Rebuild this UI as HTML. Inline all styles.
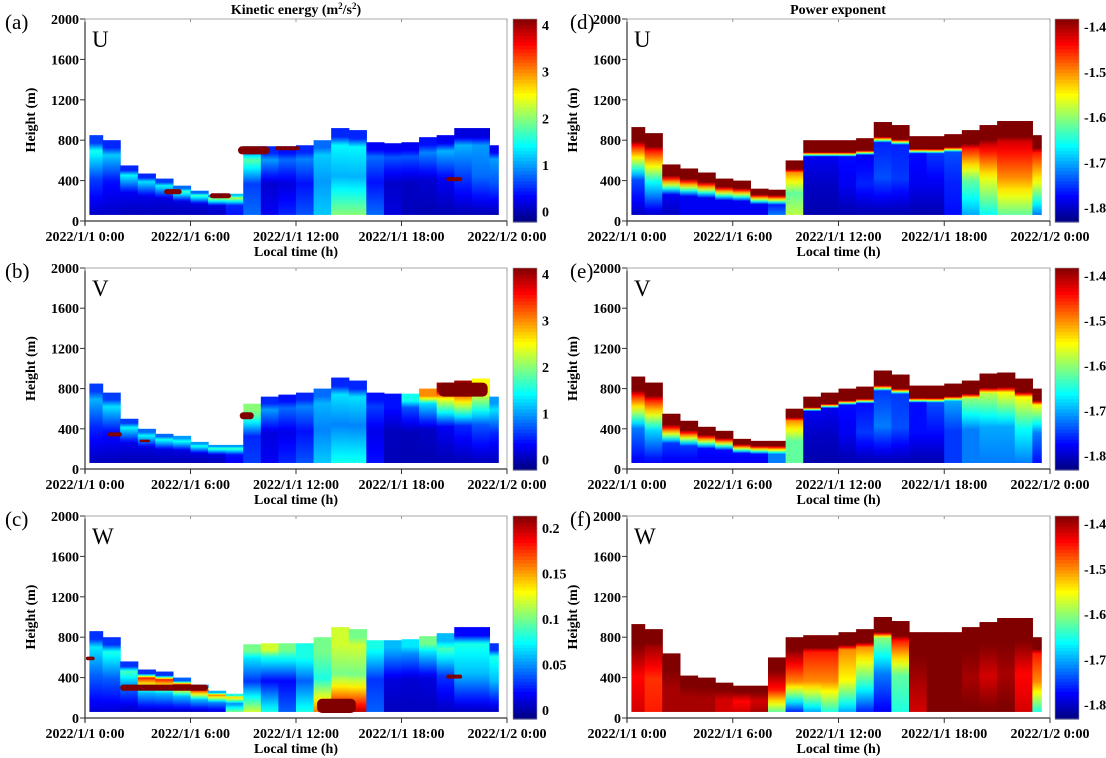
<!DOCTYPE html>
<html><head><meta charset="utf-8">
<style>
html,body{margin:0;padding:0;background:#fff;}
svg{display:block;font-family:"Liberation Serif",serif;}
.tk{font-weight:bold;font-size:14px;}
</style></head>
<body>
<svg id="fig" width="1106" height="758" viewBox="0 0 1106 758" xmlns="http://www.w3.org/2000/svg">
<defs id="defs"></defs>
<text x="296" y="14" text-anchor="middle" font-weight="bold" font-size="14">Kinetic energy (m<tspan font-size="9" dy="-5">2</tspan><tspan dy="5">/s</tspan><tspan font-size="9" dy="-5">2</tspan><tspan dy="5">)</tspan></text>
<text x="838" y="14" text-anchor="middle" font-weight="bold" font-size="14">Power exponent</text>
</svg>
<script>
// ---- data (hourly columns 0..23) ----
const hours = [0,1,2,3,4,5,6,7,8,9,10,11,12,13,14,15,16,17,18,19,20,21,22,23];
const xTickLabels = ["2022/1/1 0:00","2022/1/1 6:00","2022/1/1 12:00","2022/1/1 18:00","2022/1/2 0:00"];
const xTickHours = [0,6,12,18,24];
const yTicks = [0,400,800,1200,1600,2000];

const topA = [850,800,550,470,420,350,300,260,270,740,740,740,750,800,920,900,780,770,780,830,850,920,920,750];
const vTopA = [0.6,0.5,0.5,0.5,0.6,0.8,0.8,1.0,1.2,1.0,0.5,0.4,0.5,0.8,0.5,0.5,0.3,0.3,0.3,0.4,0.3,0.2,0.2,0.3];
const vUpA = [1.5,1.2,1.4,1.3,1.4,1.7,1.7,2.0,2.2,1.8,1.0,0.8,0.9,1.2,1.4,1.4,0.8,0.7,0.7,0.9,1.1,1.1,1.0,1.0];
const vMidA = [0.6,0.4,0.3,0.25,0.2,0.2,0.2,0.2,0.5,0.6,0.15,0.2,0.4,1.0,1.1,1.1,0.4,0.12,0.1,0.15,0.3,0.6,0.8,0.7];
const vBotA = [0.1,0.1,0.05,0.05,0.05,0.05,0.05,0.1,0.4,0.8,0.3,0.5,0.7,1.2,2.0,2.0,0.8,0.2,0.05,0.02,0.02,0.02,0.02,0.02];
const blobsA = [[5,290,0.5,25],[7.7,250,0.6,25],[9.6,700,0.9,40],[11.5,720,0.7,20],[21,415,0.45,20]];

const topB = [850,760,500,400,350,330,270,240,240,650,720,740,760,800,910,880,760,750,750,800,860,880,900,720];
const vTopB = [0.6,0.6,0.6,0.8,0.8,1.0,1.0,1.0,1.0,2.0,0.5,0.4,0.5,0.8,0.5,0.5,0.4,0.4,1.5,3.0,4.0,4.0,2.5,1.0];
const vUpB = [1.1,1.3,1.4,1.4,1.5,1.5,1.5,1.7,1.7,1.8,1.0,0.8,0.9,1.1,1.3,1.3,0.6,0.4,0.7,1.3,2.5,3.0,2.3,1.3];
const vMidB = [0.5,0.4,0.25,0.2,0.2,0.2,0.2,0.2,0.4,0.5,0.2,0.25,0.4,0.9,0.9,0.9,0.25,0.06,0.06,0.1,0.3,0.5,0.7,0.5];
const vBotB = [0.05,0.05,0.02,0.02,0.02,0.02,0.02,0.05,0.3,0.6,0.3,0.5,0.7,1.2,1.5,1.5,0.4,0.05,0.02,0.02,0.02,0.02,0.05,0.05];
const blobsB = [[1.7,345,0.4,20],[3.4,280,0.3,12],[9.2,530,0.4,35],[21.5,790,1.4,70]];

const topC = [860,800,560,480,460,400,330,270,240,730,740,740,740,800,900,880,770,770,780,810,840,900,900,740];
const vTopC = [0.03,0.03,0.03,0.03,0.03,0.04,0.05,0.06,0.08,0.1,0.12,0.1,0.08,0.1,0.12,0.1,0.08,0.06,0.07,0.1,0.06,0.02,0.02,0.03];
const vUpC = [0.07,0.08,0.09,0.18,0.18,0.18,0.18,0.16,0.14,0.07,0.08,0.08,0.08,0.1,0.12,0.12,0.07,0.05,0.05,0.07,0.09,0.08,0.08,0.08];
const vMidC = [0.04,0.04,0.04,0.06,0.06,0.06,0.06,0.05,0.05,0.03,0.02,0.02,0.04,0.08,0.1,0.1,0.03,0.012,0.01,0.012,0.03,0.06,0.06,0.06];
const vBotC = [0.01,0.01,0.005,0.005,0.005,0.005,0.005,0.01,0.1,0.12,0.08,0.04,0.08,0.16,0.2,0.2,0.04,0.005,0.005,0.005,0.005,0.005,0.005,0.005];
const blobsC = [[0.3,590,0.25,18],[4.5,300,2.5,30],[21,410,0.45,20],[14.3,120,1.1,70]];

const topD = [930,870,560,520,480,420,400,320,310,600,800,800,800,820,980,950,840,840,860,900,950,990,990,850];
const vTopD = [-1.38,-1.38,-1.38,-1.38,-1.38,-1.38,-1.38,-1.38,-1.38,-1.38,-1.38,-1.38,-1.38,-1.38,-1.38,-1.38,-1.38,-1.38,-1.38,-1.38,-1.38,-1.38,-1.38,-1.38];
const vUpD = [-1.45,-1.45,-1.38,-1.38,-1.38,-1.38,-1.38,-1.38,-1.38,-1.5,-1.78,-1.78,-1.77,-1.78,-1.76,-1.76,-1.77,-1.75,-1.74,-1.45,-1.42,-1.42,-1.42,-1.45];
const vMidD = [-1.74,-1.66,-1.78,-1.78,-1.78,-1.78,-1.78,-1.78,-1.76,-1.62,-1.8,-1.8,-1.78,-1.76,-1.74,-1.75,-1.78,-1.78,-1.76,-1.62,-1.56,-1.5,-1.5,-1.56];
const vBotD = [-1.8,-1.8,-1.8,-1.78,-1.78,-1.78,-1.78,-1.78,-1.72,-1.58,-1.81,-1.81,-1.81,-1.81,-1.81,-1.81,-1.81,-1.81,-1.77,-1.7,-1.66,-1.62,-1.62,-1.72];

const topE = [920,860,550,480,420,380,300,280,280,600,720,760,800,820,980,940,830,830,850,880,950,960,900,800];
const vTopE = [-1.38,-1.38,-1.38,-1.38,-1.38,-1.38,-1.38,-1.38,-1.38,-1.38,-1.38,-1.38,-1.38,-1.38,-1.38,-1.38,-1.38,-1.38,-1.38,-1.38,-1.38,-1.38,-1.38,-1.38];
const vUpE = [-1.45,-1.45,-1.38,-1.38,-1.38,-1.38,-1.38,-1.38,-1.38,-1.5,-1.78,-1.78,-1.77,-1.77,-1.75,-1.75,-1.77,-1.74,-1.7,-1.6,-1.58,-1.55,-1.55,-1.55];
const vMidE = [-1.72,-1.68,-1.75,-1.75,-1.77,-1.77,-1.77,-1.77,-1.72,-1.62,-1.8,-1.8,-1.78,-1.75,-1.72,-1.74,-1.77,-1.77,-1.75,-1.72,-1.7,-1.7,-1.66,-1.72];
const vBotE = [-1.78,-1.78,-1.78,-1.78,-1.78,-1.78,-1.78,-1.78,-1.72,-1.62,-1.81,-1.81,-1.81,-1.81,-1.81,-1.81,-1.81,-1.81,-1.75,-1.72,-1.72,-1.72,-1.72,-1.77];

const topF = [930,880,640,420,400,350,320,320,600,800,820,820,850,880,1000,960,850,850,850,900,950,990,990,800];
const vTopF = [-1.38,-1.38,-1.38,-1.38,-1.38,-1.38,-1.38,-1.38,-1.38,-1.38,-1.38,-1.38,-1.38,-1.38,-1.38,-1.38,-1.38,-1.38,-1.38,-1.38,-1.38,-1.38,-1.38,-1.38];
const vUpF = [-1.38,-1.4,-1.38,-1.38,-1.38,-1.38,-1.38,-1.38,-1.38,-1.4,-1.45,-1.45,-1.5,-1.5,-1.6,-1.45,-1.38,-1.38,-1.38,-1.38,-1.38,-1.38,-1.38,-1.45];
const vMidF = [-1.44,-1.46,-1.4,-1.4,-1.4,-1.42,-1.44,-1.42,-1.45,-1.5,-1.5,-1.5,-1.55,-1.62,-1.72,-1.62,-1.4,-1.38,-1.38,-1.4,-1.42,-1.4,-1.44,-1.5];
const vBotF = [-1.42,-1.45,-1.4,-1.4,-1.4,-1.42,-1.42,-1.4,-1.62,-1.76,-1.7,-1.65,-1.7,-1.76,-1.78,-1.65,-1.42,-1.38,-1.38,-1.38,-1.38,-1.38,-1.42,-1.65];

const cbTicksKE = [0,1,2,3,4];
const cbTicksW = [0,0.05,0.1,0.15,0.2];
const cbTicksP = [-1.8,-1.7,-1.6,-1.5,-1.4];

// ---- rendering ----
const NS = "http://www.w3.org/2000/svg";
const svg = document.getElementById('fig');
const defs = document.getElementById('defs');
function mk(tag, attrs, parent){ const e=document.createElementNS(NS,tag); for(const k in attrs) e.setAttribute(k,attrs[k]); (parent||svg).appendChild(e); return e; }
function cl(v){return Math.max(0,Math.min(1,v));}
function jet(n){ n=cl(n); const r=cl(1.5-Math.abs(4*n-3)), g=cl(1.5-Math.abs(4*n-2)), b=cl(1.5-Math.abs(4*n-1));
  return `rgb(${Math.round(r*255)},${Math.round(g*255)},${Math.round(b*255)})`; }

const rows = [[19,221],[268,469],[516,718]];
const cols = [{x0:85,x1:507,cb:513,lab:5},{x0:627,x1:1050,cb:1055,lab:570}];
const panels = [
 {id:'a',c:0,r:0,comp:'U',vmin:-0.2,vmax:4.13,top:topA,t:vTopA,u:vUpA,m:vMidA,b:vBotA,blobs:blobsA,ticks:cbTicksKE,fmt:v=>String(v),fr:[0,0.45,0.8,0.9,1]},
 {id:'b',c:0,r:1,comp:'V',vmin:-0.2,vmax:4.13,top:topB,t:vTopB,u:vUpB,m:vMidB,b:vBotB,blobs:blobsB,ticks:cbTicksKE,fmt:v=>String(v),fr:[0,0.45,0.8,0.9,1]},
 {id:'c',c:0,r:2,comp:'W',vmin:-0.0085,vmax:0.213,top:topC,t:vTopC,u:vUpC,m:vMidC,b:vBotC,blobs:blobsC,ticks:cbTicksW,fmt:v=>String(v),fr:[0,0.45,0.8,0.9,1]},
 {id:'d',c:1,r:0,comp:'U',vmin:-1.83,vmax:-1.383,top:topD,t:vTopD,u:vUpD,m:vMidD,b:vBotD,blobs:[],ticks:cbTicksP,fmt:v=>v.toFixed(1),fr:[0,0.4,0.78,0.84,1]},
 {id:'e',c:1,r:1,comp:'V',vmin:-1.83,vmax:-1.383,top:topE,t:vTopE,u:vUpE,m:vMidE,b:vBotE,blobs:[],ticks:cbTicksP,fmt:v=>v.toFixed(1),fr:[0,0.4,0.78,0.84,1]},
 {id:'f',c:1,r:2,comp:'W',vmin:-1.83,vmax:-1.383,top:topF,t:vTopF,u:vUpF,m:vMidF,b:vBotF,blobs:[],ticks:cbTicksP,fmt:v=>v.toFixed(1),fr:[0,0.4,0.78,0.84,1]},
];
const BASE = 60;

panels.forEach(p=>{
  const C=cols[p.c], [yt,yb]=rows[p.r];
  const FR=p.fr;
  const xs = t => C.x0 + t/24*(C.x1-C.x0);
  const ys = h => yb - h/2000*(yb-yt);
  const norm = v => (v-p.vmin)/(p.vmax-p.vmin);
  const g = mk('g',{},svg);
  
  
  hours.forEach((hr,i)=>{
    const t0=Math.max(0.25,hr), t1=Math.min(23.5,hr+1);
    if(t1<=t0) return;
    const gid='g'+p.id+i;
    const lg=mk('linearGradient',{id:gid,x1:0,y1:1,x2:0,y2:0},defs);
    const vals=[p.b[i],p.m[i],p.u[i],p.t[i],p.t[i]];
    for(let k=0;k<FR.length-1;k++){
      for(let s=0;s<6;s++){
        const f=FR[k]+(FR[k+1]-FR[k])*s/6;
        const v=vals[k]+(vals[k+1]-vals[k])*s/6;
        mk('stop',{offset:f,'stop-color':jet(norm(v))},lg);
      }
    }
    mk('stop',{offset:1,'stop-color':jet(norm(vals[4]))},lg);
    const x=xs(t0), y=ys(p.top[i]);
    const rc=mk('rect',{x:x.toFixed(2),y:y.toFixed(2),width:(xs(t1)-x+0.6).toFixed(2),height:(ys(BASE)-y).toFixed(2),fill:`url(#${gid})`},g);
    
    
  });
  p.blobs.forEach((bl,j)=>{
    const w=2*bl[2]/24*(C.x1-C.x0), h=2*bl[3]/2000*(yb-yt);
    const e=mk('rect',{x:xs(bl[0])-w/2,y:ys(bl[1])-h/2,width:w,height:h,rx:Math.min(h/2,5),fill:jet(1)},g);
    
    
  });
  const ax=mk('g',{},g);
  
  
  mk('rect',{x:C.x0,y:yt,width:C.x1-C.x0,height:yb-yt,fill:'none',stroke:'#aaa','stroke-width':1},ax);
  mk('line',{x1:C.x0,y1:yt,x2:C.x0,y2:yb+4,stroke:'#333','stroke-width':1.2},ax);
  mk('line',{x1:C.x0,y1:yb,x2:C.x1,y2:yb,stroke:'#333','stroke-width':1.2},ax);
  yTicks.forEach(h=>{
    mk('line',{x1:C.x0-5,x2:C.x0,y1:ys(h),y2:ys(h),stroke:'#333'},ax);
    const tx=mk('text',{x:C.x0-6,y:ys(h)+5,'text-anchor':'end',class:'tk'},ax);
    tx.textContent=h;
    
    
  });
  xTickHours.forEach((hh,k)=>{
    mk('line',{x1:xs(hh),x2:xs(hh),y1:yb,y2:yb+5,stroke:'#333'},ax);
    mk('line',{x1:xs(hh),x2:xs(hh),y1:yt,y2:yt+3,stroke:'#999'},ax);
    const tx=mk('text',{x:xs(hh),y:yb+20,'text-anchor':'middle',class:'tk'},ax);
    tx.textContent=xTickLabels[k];
    
    
  });
  const xl=mk('text',{x:(C.x0+C.x1)/2,y:yb+35,'text-anchor':'middle',class:'tk'},ax);
  xl.textContent='Local time (h)';
  
  
  const yl=mk('text',{x:0,y:0,'text-anchor':'middle',class:'tk',transform:`translate(${C.x0-50},${(yt+yb)/2}) rotate(-90)`},ax);
  yl.textContent='Height (m)';
  
  
  const pl=mk('text',{x:C.lab,y:yt+10,'font-size':21},ax);
  pl.textContent='('+p.id+')';
  
  
  const cp=mk('text',{x:C.x0+7,y:yt+28,'font-size':23},ax);
  cp.textContent=p.comp;
  
  
  const cb=mk('g',{},g);
  
  
  const N=60, H=yb-yt+1, W=24;
  for(let s=0;s<N;s++){
    mk('rect',{x:C.cb,y:(yt+H*s/N).toFixed(2),width:W,height:(H/N+0.6).toFixed(2),fill:jet(1-(s+0.5)/N)},cb);
  }
  mk('rect',{x:C.cb,y:yt,width:W,height:H,fill:'none',stroke:'#999','stroke-width':0.6},cb);
  p.ticks.forEach(v=>{
    const y=yb-norm(v)*(yb-yt);
    const tx=mk('text',{x:C.cb+W+5,y:y+5,class:'tk'},cb);
    tx.textContent=p.fmt(v);
    
    
  });
});
</script>
</body></html>
